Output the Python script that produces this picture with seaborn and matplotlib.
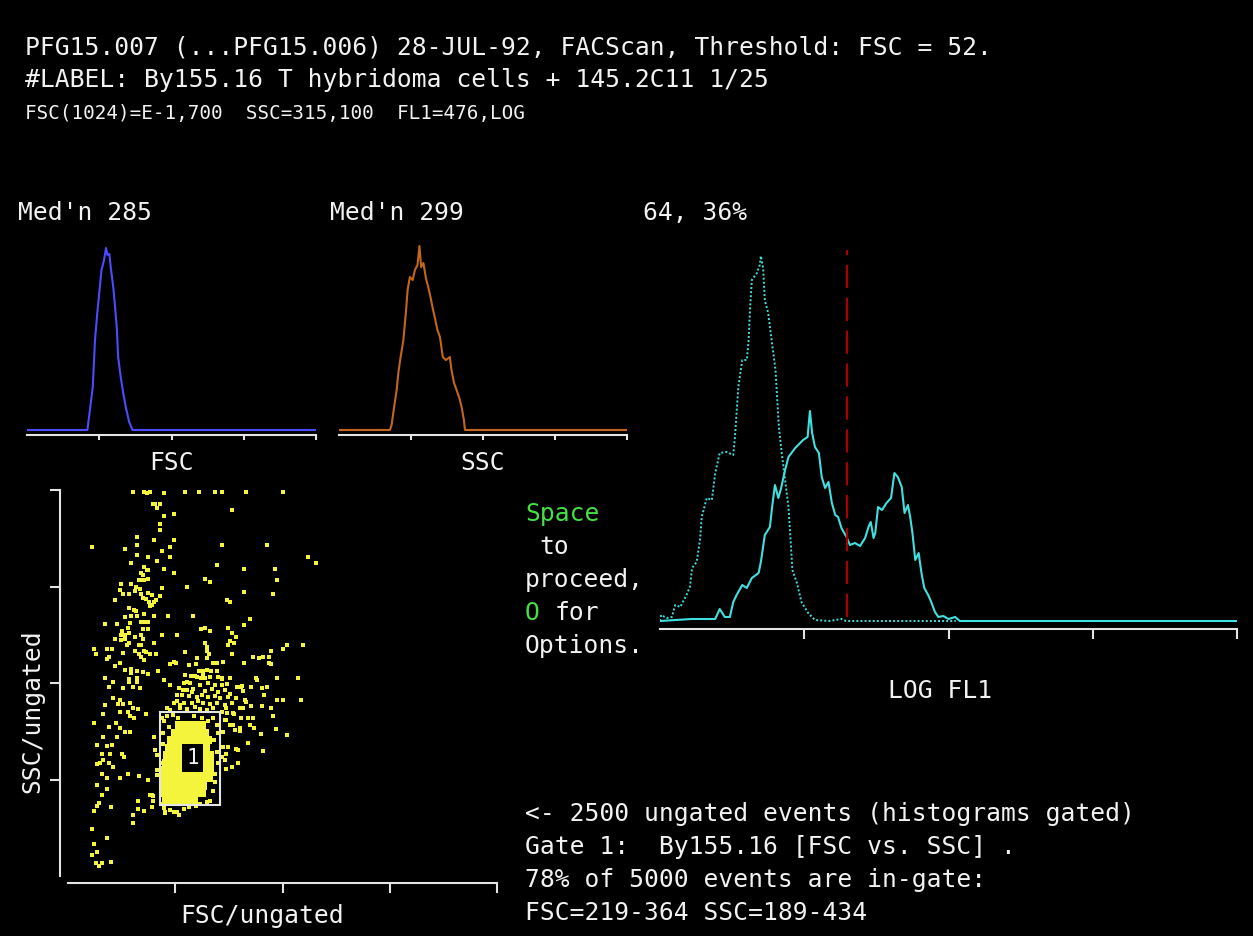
import matplotlib
matplotlib.use('Agg')
import matplotlib.pyplot as plt
from matplotlib.patches import Rectangle
import pandas as pd
import seaborn as sns

# ---- text on the screen ----
header_lines = ['PFG15.007 (...PFG15.006) 28-JUL-92, FACScan, Threshold: FSC = 52.',
                '#LABEL: By155.16 T hybridoma cells + 145.2C11 1/25']
settings_line = 'FSC(1024)=E-1,700  SSC=315,100  FL1=476,LOG'
fsc_median = "Med'n 285"
ssc_median = "Med'n 299"
fl1_marker_text = '64, 36%'
footer_lines = ['<- 2500 ungated events (histograms gated)',
                'Gate 1:  By155.16 [FSC vs. SSC] .',
                "78% of 5000 events are in-gate:",
                'FSC=219-364 SSC=189-434']

# ---- data (channels 0-1024) ----
channel_ticks = [256, 512, 768, 1024]

fsc_ch = [0, 214, 217, 223, 233, 241, 249, 256, 264, 273, 280, 285, 292, 297, 306, 312,
          318, 323, 332, 341, 350, 362, 374, 1024]
fsc_counts = [0, 0, 7, 20, 43, 90, 117, 137, 160, 170, 182, 175, 176, 162, 142, 123,
              103, 73, 53, 37, 23, 8, 0, 0]

ssc_ch = [0, 181, 187, 196, 205, 211, 219, 229, 238, 244, 252, 262, 270, 279, 286, 292,
          300, 309, 318, 326, 333, 341, 350, 359, 369, 380, 394, 400, 409, 418, 428, 436,
          444, 448, 1024]
ssc_counts = [0, 0, 5, 23, 40, 57, 73, 90, 118, 140, 153, 150, 160, 165, 184, 163,
              167, 152, 142, 132, 122, 112, 100, 93, 73, 70, 73, 60, 47, 40, 32, 23,
              10, 0, 0]

# FL1 (log) histograms: unstained control (dotted) and stained (solid)
fl1_ctrl_ch = [0, 2, 12, 21, 27, 36, 47, 53, 57, 65, 71, 74, 83, 92, 98, 106, 118, 130,
               133, 139, 146, 154, 157, 160, 163, 172, 177, 179, 183, 186, 192, 198, 205,
               211, 216, 222, 228, 231, 235, 243, 251, 263, 275, 300, 322, 330, 525]
fl1_ctrl_counts = [0, 6, 3, 4, 16, 14, 26, 34, 53, 59, 81, 104, 123, 121, 148, 168, 169,
                   166, 184, 234, 261, 261, 278, 314, 341, 348, 356, 365, 353, 321, 308,
                   281, 251, 194, 168, 141, 114, 88, 51, 38, 19, 8, 1, 0, 2, 0, 0]

fl1_ch = [0, 56, 98, 106, 115, 124, 130, 136, 146, 154, 163, 175, 179, 186, 195, 199,
          204, 210, 215, 222, 228, 240, 254, 262, 266, 270, 275, 282, 287, 293, 299, 305,
          311, 316, 322, 331, 337, 346, 355, 364, 370, 374, 379, 382, 387, 394, 402, 410,
          416, 422, 429, 434, 440, 444, 448, 453, 459, 464, 469, 476, 482, 488, 494, 503,
          512, 524, 532, 1024]
fl1_counts = [0, 2, 2, 12, 4, 4, 19, 26, 36, 33, 43, 48, 59, 86, 94, 114,
              136, 123, 133, 151, 164, 173, 181, 184, 210, 188, 174, 168, 144, 133, 139, 118,
              106, 104, 93, 84, 76, 78, 75, 83, 94, 99, 83, 88, 114, 111, 118, 123,
              148, 144, 134, 108, 116, 104, 88, 61, 68, 48, 33, 26, 18, 9, 4, 5,
              2, 4, 0, 0]
fl1_marker = 332
fl1_marker_span = (4, 371)

# gate 1 on FSC vs SSC
gate_fsc = (219, 364)
gate_ssc = (189, 434)
gate_label_pos = (297, 313)

# ungated events (FSC, SSC)
ungated_events = [
    (154, 1020), (181, 1020), (188, 1016), (196, 1020), (229, 1016), (280, 1020), (313, 1020),
    (350, 1020), (368, 1020), (425, 1020), (513, 1020),
    (202, 986), (207, 986), (220, 986), (212, 976), (229, 955), (253, 960), (220, 934), (220, 918),
    (57, 872), (136, 867), (164, 898), (206, 892), (253, 892), (164, 877), (225, 862), (244, 872),
    (164, 851), (150, 830), (192, 845), (212, 836), (244, 846), (182, 819), (188, 811), (192, 811),
    (229, 814), (174, 803), (178, 799), (253, 805), (192, 789), (175, 786), (182, 786), (169, 786),
    (127, 774), (150, 774), (162, 768), (172, 761), (123, 759), (159, 757), (225, 764), (192, 752),
    (285, 768), (131, 748), (145, 748), (174, 747), (201, 746), (178, 737), (186, 734), (220, 743),
    (113, 733), (193, 728), (210, 733), (205, 726), (196, 717), (201, 719), (145, 711), (158, 706),
    (162, 702), (150, 690), (164, 690), (182, 696), (135, 687), (206, 690), (238, 690), (299, 690),
    (89, 669), (118, 669), (147, 671), (174, 675), (183, 675), (192, 675), (144, 659), (180, 655),
    (192, 655), (128, 651), (137, 640), (145, 644), (127, 639), (160, 635), (174, 639), (225, 639),
    (261, 639), (113, 628), (127, 625), (137, 628), (178, 628), (206, 618), (145, 618), (140, 612),
    (169, 613), (175, 612), (61, 603), (94, 603), (104, 603), (160, 598), (182, 598), (186, 593),
    (66, 588), (131, 592), (169, 590), (174, 581), (196, 588), (210, 588), (99, 582), (94, 576),
    (182, 572), (123, 566), (113, 556), (137, 547), (151, 550), (150, 538), (164, 543), (178, 540),
    (192, 537), (216, 545), (244, 563), (253, 569), (258, 565), (280, 593), (89, 525), (145, 522),
    (164, 525), (288, 560),
    (392, 970), (368, 877), (476, 877), (574, 846), (593, 830), (355, 826), (420, 814), (495, 814),
    (327, 789), (340, 779), (500, 784), (420, 753), (490, 748), (379, 732), (387, 727), (299, 691),
    (434, 681), (420, 665), (318, 655), (327, 659), (383, 659), (340, 649), (392, 644), (402, 634),
    (387, 623), (397, 618), (327, 618), (331, 607), (383, 613), (331, 597), (336, 588), (392, 588),
    (485, 597), (523, 613), (561, 613), (513, 602), (442, 582), (457, 577), (466, 582), (480, 582),
    (309, 577), (331, 577), (479, 566), (485, 562), (420, 566), (371, 569), (305, 562), (345, 566),
    (355, 566), (313, 545), (323, 545), (331, 547), (342, 543), (355, 545), (294, 530), (304, 530),
    (318, 525), (327, 525), (367, 525), (387, 525), (448, 525), (500, 525), (550, 525),
    (88, 524), (108, 514), (99, 502), (132, 498), (145, 515), (155, 502), (164, 515), (172, 498),
    (108, 473), (123, 467), (120, 455), (88, 453), (132, 455), (147, 460), (155, 447), (168, 442),
    (124, 436), (144, 434), (148, 425), (158, 420), (186, 431), (84, 429), (62, 405), (99, 396),
    (115, 405), (123, 393), (137, 383), (147, 381), (118, 369), (84, 369), (70, 347), (92, 346),
    (104, 347), (80, 323), (100, 323), (128, 323), (134, 317), (83, 308), (76, 301), (99, 301),
    (107, 290), (70, 296), (80, 270), (94, 259), (123, 261), (144, 270), (169, 266), (192, 254),
    (70, 241), (92, 231), (80, 215), (196, 215), (202, 199), (166, 199), (75, 193), (70, 186),
    (103, 182), (168, 178), (182, 172), (61, 172), (155, 162), (232, 171), (252, 171), (264, 163),
    (155, 141), (57, 126), (94, 100), (61, 84), (70, 64), (57, 57), (103, 38), (67, 34), (73, 27),
    (80, 34), (206, 369), (212, 321), (212, 268), (201, 215),
    (228, 520), (244, 506), (260, 480), (268, 453), (236, 445), (283, 515), (295, 489), (275, 493),
    (252, 458),
    (387, 524), (450, 520), (500, 524), (550, 524), (414, 502), (438, 502), (418, 491), (462, 498),
    (474, 502), (375, 493), (387, 484), (401, 471), (426, 462), (468, 480), (500, 467), (512, 467),
    (555, 467), (438, 452), (462, 452), (484, 446), (418, 446), (377, 445), (396, 431), (414, 420),
    (430, 420), (442, 420), (490, 425), (377, 414), (393, 400), (434, 400), (444, 393), (496, 390),
    (410, 384), (460, 378), (522, 374), (430, 352), (401, 338), (466, 331), (371, 343), (377, 323),
    (406, 301), (377, 285), (371, 383), (367, 316),
    (280, 533), (296, 531), (307, 527), (323, 533), (339, 529), (359, 529), (367, 522), (387, 524),
    (276, 511), (292, 513), (315, 507), (335, 511), (351, 507), (367, 507), (379, 509), (264, 498),
    (284, 493), (299, 495), (327, 492), (343, 495), (359, 489), (375, 493), (403, 502), (415, 504),
    (272, 480), (288, 478), (307, 476), (319, 480), (335, 476), (351, 478), (363, 471), (383, 474),
    (423, 467), (260, 463), (276, 458), (296, 460), (311, 463), (323, 458), (338, 455), (355, 458),
    (375, 454), (391, 460), (411, 445), (268, 445), (284, 442), (303, 448), (315, 442), (331, 440),
    (347, 445), (367, 436), (379, 433), (395, 432), (244, 440),
    (224, 420), (236, 425), (250, 428), (345, 420), (355, 400), (358, 380), (355, 330), (358, 300),
    (350, 250), (345, 225), (340, 200), (224, 190), (230, 410), (262, 418), (300, 425), (320, 420),
    (334, 412), (348, 360), (352, 270), (332, 195), (316, 192), (222, 300), (222, 260), (226, 350),
    (226, 380), (240, 395), (208, 334), (212, 281), (204, 211), (200, 184), (228, 180), (244, 175),
    (260, 171), (276, 177), (232, 166), (290, 182), (306, 185), (375, 414), (387, 401), (399, 387),
    (411, 392), (383, 343), (405, 334), (375, 308), (391, 290),
]

# saturated centre of the gated population
gate_core = [
    (235, 200), (252, 200), (270, 200), (288, 200), (300, 200),
    (232, 220), (250, 220), (268, 220), (286, 220), (304, 220), (320, 220),
    (232, 240), (250, 240), (268, 240), (286, 240), (304, 240), (322, 240),
    (232, 260), (250, 260), (268, 260), (286, 260), (304, 260), (322, 260), (336, 260),
    (232, 280), (250, 280), (268, 280), (286, 280), (304, 280), (322, 280), (338, 280),
    (234, 300), (252, 300), (270, 300), (288, 300), (306, 300), (324, 300), (340, 300),
    (236, 320), (254, 320), (272, 320), (290, 320), (308, 320), (326, 320), (340, 320),
    (240, 340), (258, 340), (276, 340), (294, 340), (312, 340), (330, 340),
    (246, 360), (264, 360), (282, 360), (300, 360), (318, 360), (334, 360),
    (256, 380), (274, 380), (292, 380), (310, 380), (326, 380),
    (266, 400), (284, 400), (302, 400), (320, 400),
]

events = pd.DataFrame(ungated_events, columns=['FSC', 'SSC'])
core = pd.DataFrame(gate_core, columns=['FSC', 'SSC'])

# ---- colours ----
BG = 'black'
AXIS = '#e4e4e4'
TEXT = '#f2f2f2'
GREEN = '#44e044'
FSC_C = '#4b4bff'
SSC_C = '#c4661a'
FL1_C = '#40e0e0'
RED = '#a80000'
YELLOW = '#f4f43c'

sns.set_theme(style='dark', rc={'axes.facecolor': BG, 'figure.facecolor': BG,
                                'savefig.facecolor': BG, 'axes.grid': False})
plt.rcParams['font.family'] = ['DejaVu Sans Mono', 'DejaVu Sans']
FS = 17.7
CHAR_W = 14.8  # px per character of the monospaced text

W, H = 1253, 936
fig = plt.figure(figsize=(W / 100, H / 100), dpi=100)


def box(l, t, r, b):
    return [l / W, 1 - b / H, (r - l) / W, (b - t) / H]


def hist_axis(rect, ylim, ticklen):
    ax = fig.add_axes(rect)
    ax.set_xlim(0, 1024)
    ax.set_ylim(*ylim)
    for side in ['left', 'right', 'top']:
        ax.spines[side].set_visible(False)
    ax.spines['bottom'].set_color(AXIS)
    ax.spines['bottom'].set_linewidth(1.5)
    ax.set_xticks(channel_ticks)
    ax.set_xticklabels([])
    ax.set_yticks([])
    ax.tick_params(axis='x', bottom=True, direction='out', length=ticklen, width=1.5, color=AXIS)
    return ax


# FSC histogram
ax_fsc = hist_axis(box(27, 230, 316, 435), (-5, 200), 3.5)
sns.lineplot(x=fsc_ch, y=fsc_counts, ax=ax_fsc, color=FSC_C, lw=1.5, sort=False, estimator=None)
ax_fsc.set_xlabel('FSC', color=TEXT, fontsize=FS, va='center')
ax_fsc.xaxis.set_label_coords(0.5, -0.137)

# SSC histogram
ax_ssc = hist_axis(box(339, 230, 627, 435), (-5, 200), 3.5)
sns.lineplot(x=ssc_ch, y=ssc_counts, ax=ax_ssc, color=SSC_C, lw=1.5, sort=False, estimator=None)
ax_ssc.set_xlabel('SSC', color=TEXT, fontsize=FS, va='center')
ax_ssc.xaxis.set_label_coords(0.5, -0.137)

# FL1 histogram
ax_fl1 = hist_axis(box(660, 240, 1237, 629), (-8, 381), 7.5)
sns.lineplot(x=fl1_ctrl_ch, y=fl1_ctrl_counts, ax=ax_fl1, color=FL1_C, lw=1.4,
             linestyle=(0, (1, 1.1)), sort=False, estimator=None)
sns.lineplot(x=fl1_ch, y=fl1_counts, ax=ax_fl1, color=FL1_C, lw=1.5, sort=False, estimator=None)
ax_fl1.vlines(fl1_marker, *fl1_marker_span, colors=RED, lw=1.6, linestyles=[(0, (10.5, 4.3))])
ax_fl1.set_xlabel('LOG FL1', color=TEXT, fontsize=FS, va='center')
ax_fl1.xaxis.set_label_coords(0.485, -0.159)

# FSC vs SSC dot plot
ax_dot = fig.add_axes(box(68, 490, 497, 876))
sns.scatterplot(data=core, x='FSC', y='SSC', ax=ax_dot, color=YELLOW, marker='s',
                s=30, linewidth=0)
sns.scatterplot(data=events, x='FSC', y='SSC', ax=ax_dot, color=YELLOW, marker='s',
                s=6, linewidth=0, clip_on=False)
ax_dot.add_patch(Rectangle((gate_fsc[0], gate_ssc[0]), gate_fsc[1] - gate_fsc[0],
                           gate_ssc[1] - gate_ssc[0], fill=False, ec=AXIS, lw=1.5))
ax_dot.text(*gate_label_pos, '1', ha='center', va='center', color=TEXT, fontsize=15,
            bbox=dict(boxstyle='square,pad=0.2', fc='black', ec='none'))
ax_dot.set_xlim(0, 1024)
ax_dot.set_ylim(0, 1024)
ax_dot.set_xticks(channel_ticks)
ax_dot.set_yticks(channel_ticks)
ax_dot.set_xticklabels([])
ax_dot.set_yticklabels([])
sns.despine(ax=ax_dot, offset={'left': 6, 'bottom': 5})
for side in ['left', 'bottom']:
    ax_dot.spines[side].set_color(AXIS)
    ax_dot.spines[side].set_linewidth(1.5)
ax_dot.tick_params(axis='both', left=True, bottom=True, direction='out', length=7.5,
                   width=1.5, color=AXIS)
ax_dot.set_xlabel('FSC/ungated', color=TEXT, fontsize=FS, va='center')
ax_dot.xaxis.set_label_coords(0.452, -0.104)
ax_dot.set_ylabel('SSC/ungated', color=TEXT, fontsize=FS, va='center', ha='center')
ax_dot.yaxis.set_label_coords(-0.084, 0.427)


def put(x, y, s, color=TEXT, size=FS):
    fig.text(x / W, 1 - y / H, s, ha='left', va='center', color=color, fontsize=size)


put(25, 47, header_lines[0])
put(25, 80, header_lines[1])
put(25, 114, settings_line, size=13.9)
put(18, 213, fsc_median)
put(330, 213, ssc_median)
put(643, 213, fl1_marker_text)

put(525, 514, 'Space', GREEN)
put(525 + CHAR_W, 547, 'to')
put(525, 580, 'proceed,')
put(525, 613, 'O', GREEN)
put(525 + 2 * CHAR_W, 613, 'for')
put(525, 646, 'Options.')

for i, line in enumerate(footer_lines):
    put(525, 814 + 33 * i, line)

fig.savefig('out.png', dpi=100, facecolor=BG)
